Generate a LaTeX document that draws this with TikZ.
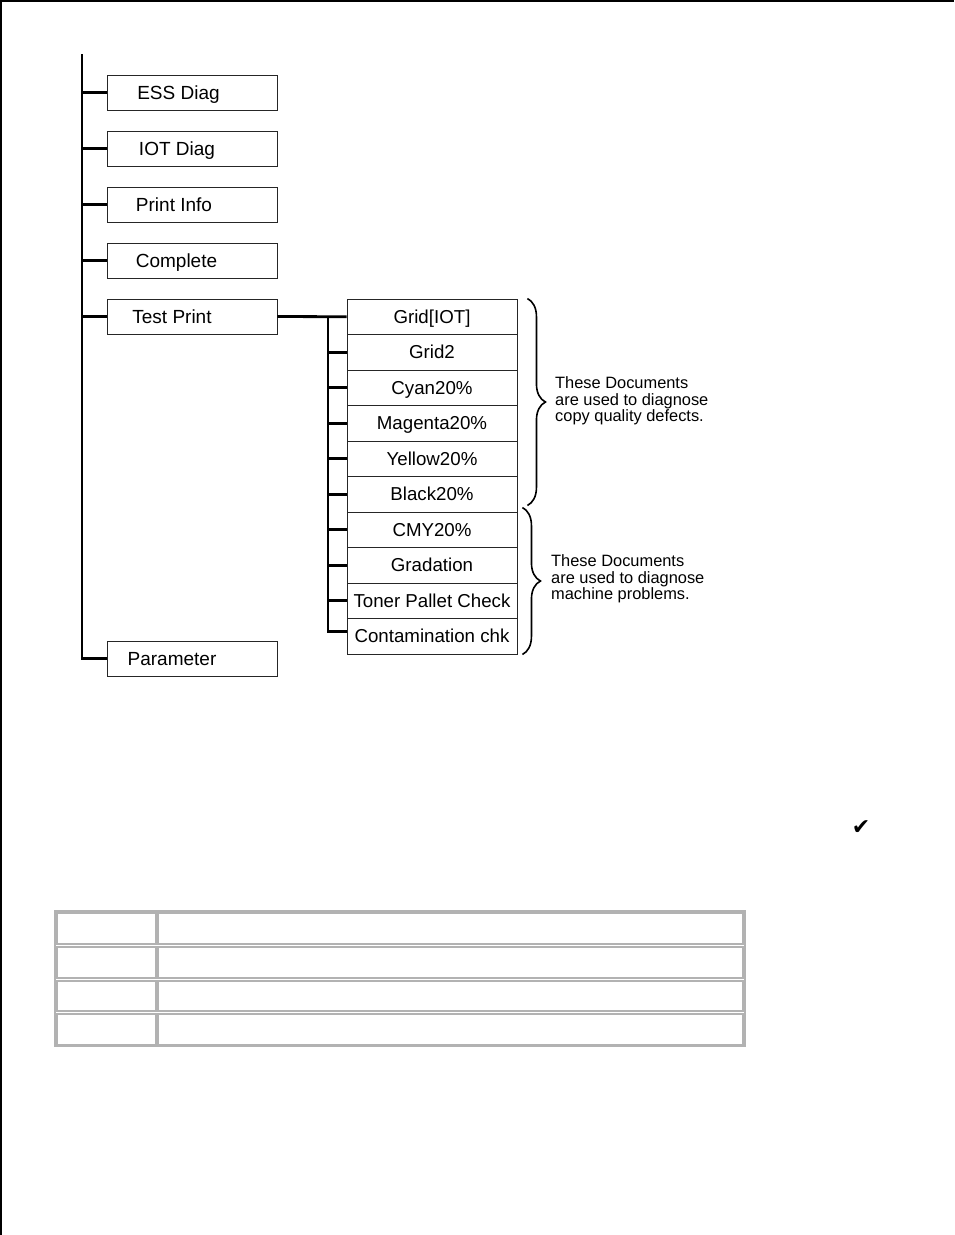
\documentclass[tikz,border=0pt]{standalone}
\usepackage{fontspec}
\setmainfont{Liberation Sans}
\newfontfamily\symfont{DejaVu Sans}
\usetikzlibrary{calc,decorations.pathreplacing}

\begin{document}
\begin{tikzpicture}[x=1pt,y=-1pt,
  menubox/.style={draw=black!85,line width=0.9pt,minimum width=170pt,minimum height=35pt,inner sep=0pt},
  menutext/.style={inner sep=0pt,text height=13.5pt,text depth=0pt,font=\fontsize{19}{20}\selectfont},
  subbox/.style={draw=black!85,line width=0.9pt,minimum width=170pt,minimum height=35.5pt,inner sep=0pt,
    text height=13.2pt,text depth=0pt,font=\fontsize{18.7}{20}\selectfont},
  trunk/.style={line width=2.8pt},
  curly/.style={decorate,decoration={brace,amplitude=18pt},line width=1.6pt},
  note/.style={align=left,anchor=west,inner sep=0pt,font=\fontsize{16.4}{16.5}\selectfont},
  cellline/.style={draw=black!30,line width=1.3pt}]
\useasboundingbox (0,0) rectangle (954,1235);
% page edge
\draw[line width=1.6pt] (0,1) -- (954,1);
\draw[line width=1.6pt] (1,0) -- (1,1235);

% main menu
\coordinate (root) at (82,54);
        \foreach \name/\yy/\tx/\txt in {ess/92.5/178.5/ESS Diag,iot/148.5/177/IOT Diag,info/204.5/174/Print Info,
          comp/260.5/176.5/Complete,test/316.5/172/Test Print,param/658.5/172/Parameter}{
\node[menubox] (\name) at (192,\yy) {};
\node[menutext] at (\tx,\yy) {\txt};
\draw[trunk] (\name.west) -- (\name.west -| root);
}
\draw[trunk] (root) |- (param.west);

% test print documents
        \foreach \txt [count=\i] in {Grid[IOT],Grid2,Cyan20\%,Magenta20\%,Yellow20\%,Black20\%,
          CMY20\%,Gradation,Toner Pallet Check,Contamination chk}{
\node[subbox] (doc\i) at (432,{281.25+35.5*\i}) {\txt};
}
\coordinate (fork) at (328,316.75);
\draw[trunk] (test.east) -- (doc1.west);
        \foreach \i in {2,...,9}{
\draw[trunk] (doc\i.west) -- (doc\i.west -| fork);
}
\draw[trunk] (fork) |- ([yshift=5pt]doc10.west);

% braces
\draw[curly] ([xshift=10pt]doc1.north east) -- ([xshift=10pt,yshift=7pt]doc6.south east);
\draw[curly] ([xshift=5pt,yshift=4pt]doc7.north east) -- ([xshift=5pt]doc10.south east);
\node[note] (quality) at (555,401) {These Documents\\are used to diagnose\\copy quality defects.};
\node[note] (machine) at (551,579) {These Documents\\are used to diagnose\\machine problems.};

\node[inner sep=0pt,font=\symfont\fontsize{22}{22}\selectfont] (tick) at (861,828) {✔};

% empty table
\draw[cellline] (55,911) rectangle (745,1046);
        \foreach \ya/\yb in {911/945,945/979,979/1012,1012/1046}{
\draw[cellline] (57,\ya+2) rectangle (156,\yb-1);
\draw[cellline] (158,\ya+2) rectangle (743,\yb-1);
}
\end{tikzpicture}
\end{document}
